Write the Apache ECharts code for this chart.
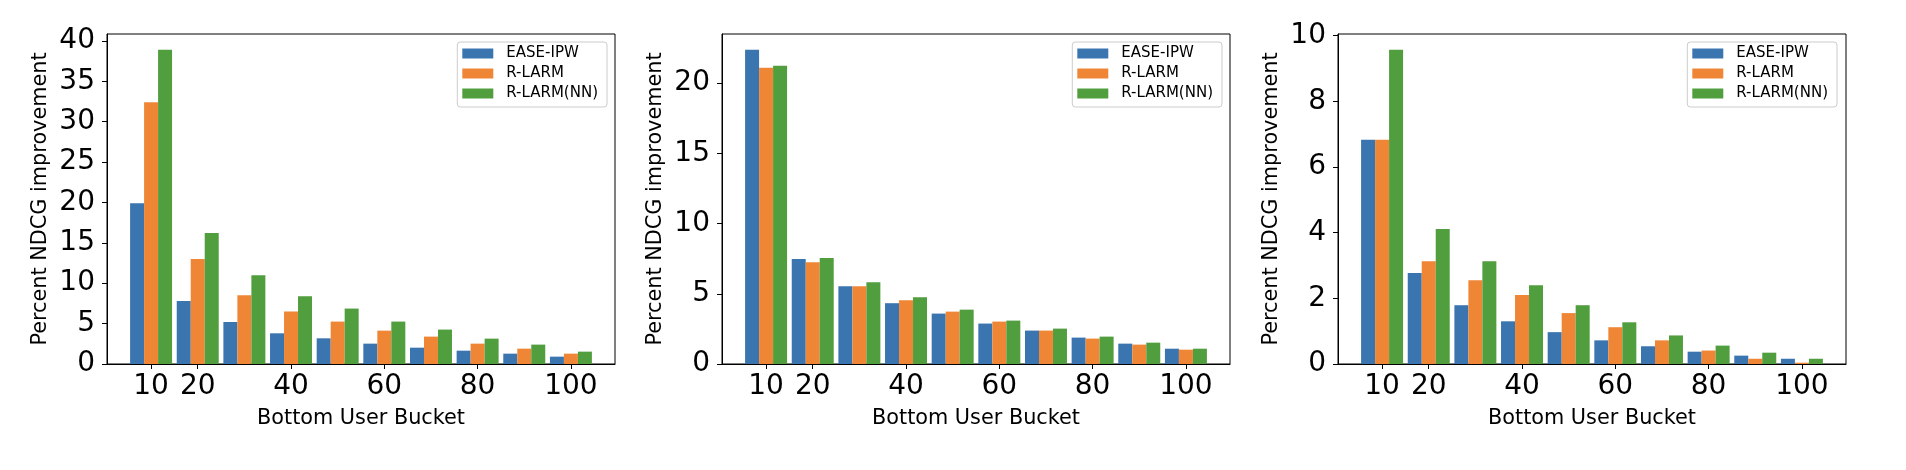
<!DOCTYPE html>
<html>
<head>
<meta charset="utf-8">
<script src="https://cdn.jsdelivr.net/npm/echarts@6/dist/echarts.min.js"></script>
<style>
  html, body { margin: 0; padding: 0; background: #fff; }
  #chart { width: 1906px; height: 470px; }
</style>
</head>
<body>
<div id="chart"></div>
<script>
// ---- data ----
const buckets = [10, 20, 30, 40, 50, 60, 70, 80, 90, 100];
const seriesNames = ['EASE-IPW', 'R-LARM', 'R-LARM(NN)'];
const xTickLabels = [10, 20, 40, 60, 80, 100];

const p1EaseIpw  = [19.9, 7.8, 5.2, 3.8, 3.18, 2.52, 2.02, 1.65, 1.28, 0.91];
const p1Rlarm    = [32.4, 13.0, 8.5, 6.5, 5.25, 4.13, 3.39, 2.52, 1.9, 1.28];
const p1RlarmNN  = [38.9, 16.2, 11.0, 8.4, 6.86, 5.25, 4.26, 3.14, 2.4, 1.53];

const p2EaseIpw  = [22.38, 7.47, 5.54, 4.33, 3.59, 2.88, 2.38, 1.88, 1.45, 1.09];
const p2Rlarm    = [21.1, 7.25, 5.54, 4.54, 3.73, 3.02, 2.38, 1.81, 1.38, 1.02];
const p2RlarmNN  = [21.24, 7.54, 5.83, 4.76, 3.87, 3.09, 2.52, 1.95, 1.52, 1.09];

const p3EaseIpw  = [6.83, 2.77, 1.79, 1.3, 0.97, 0.72, 0.54, 0.375, 0.255, 0.16];
const p3Rlarm    = [6.83, 3.13, 2.55, 2.1, 1.55, 1.12, 0.72, 0.41, 0.16, 0.04];
const p3RlarmNN  = [9.57, 4.11, 3.13, 2.4, 1.79, 1.27, 0.87, 0.56, 0.345, 0.16];

const p1YTicks = [0, 5, 10, 15, 20, 25, 30, 35, 40];
const p2YTicks = [0, 5, 10, 15, 20];
const p3YTicks = [0, 2, 4, 6, 8, 10];

// ---- styling / layout ----
const colors = ['#3a75b0', '#ef8636', '#519e3e'];
const FONT = 'DejaVu Sans';
const BAR_W = 3;            // bar width in data units
const offsets = [-3, 0, 3]; // group offsets in data units

const panels = [
  { series: [p1EaseIpw, p1Rlarm, p1RlarmNN], yTicks: p1YTicks, interval: 5, left: 107, legendRight: 1299 },
  { series: [p2EaseIpw, p2Rlarm, p2RlarmNN], yTicks: p2YTicks, interval: 5, left: 722, legendRight: 684 },
  { series: [p3EaseIpw, p3Rlarm, p3RlarmNN], yTicks: p3YTicks, interval: 2, left: 1338, legendRight: 69 }
];

const grid = [], xAxis = [], yAxis = [], series = [], legend = [];

panels.forEach((p, i) => {
  grid.push({
    left: p.left, top: 34, width: 508, height: 330,
    show: true, borderColor: '#000', borderWidth: 1, backgroundColor: 'transparent'
  });
  xAxis.push({
    type: 'value', gridIndex: i, min: 0.55, max: 109.45,
    name: 'Bottom User Bucket', nameLocation: 'middle', nameGap: 44,
    nameTextStyle: { fontFamily: FONT, fontSize: 20.8, color: '#000' },
    axisLine: { show: true, lineStyle: { color: '#000', width: 1 } },
    axisTick: { show: true, length: 5, lineStyle: { color: '#000' }, customValues: xTickLabels },
    axisLabel: { fontFamily: FONT, fontSize: 28, color: '#000', margin: 9, customValues: xTickLabels },
    splitLine: { show: false }
  });
  let maxV = 0;
  p.series.forEach(s => s.forEach(v => { if (v > maxV) maxV = v; }));
  yAxis.push({
    type: 'value', gridIndex: i, min: 0, max: maxV * 1.05, interval: p.interval,
    name: 'Percent NDCG improvement', nameLocation: 'middle', nameGap: 56,
    nameTextStyle: { fontFamily: FONT, fontSize: 20.8, color: '#000' },
    axisLine: { show: true, lineStyle: { color: '#000', width: 1 } },
    axisTick: { show: true, length: 5, lineStyle: { color: '#000' }, customValues: p.yTicks },
    axisLabel: { fontFamily: FONT, fontSize: 28, color: '#000', margin: 12, customValues: p.yTicks },
    splitLine: { show: false }
  });
  p.series.forEach((vals, k) => {
    const off = offsets[k];
    const col = colors[k];
    series.push({
      type: 'custom',
      id: 'p' + i + 's' + k,
      name: seriesNames[k],
      xAxisIndex: i, yAxisIndex: i,
      itemStyle: { color: col },
      encode: { x: 0, y: 1 },
      data: buckets.map((b, j) => [b, vals[j]]),
      renderItem: function (params, api) {
        const x = api.value(0), y = api.value(1);
        const p0 = api.coord([x + off - BAR_W / 2, y]);
        const p1 = api.coord([x + off + BAR_W / 2, 0]);
        return {
          type: 'rect',
          shape: { x: p0[0], y: p0[1], width: p1[0] - p0[0], height: p1[1] - p0[1] },
          style: { fill: col }
        };
      }
    });
  });
  legend.push({
    orient: 'vertical', right: p.legendRight, top: 42,
    data: seriesNames.map(n => ({ name: n, icon: 'rect' })),
    itemWidth: 31, itemHeight: 10, itemGap: 5,
    padding: [4, 9, 6, 5],
    backgroundColor: '#fff', borderColor: '#cccccc', borderWidth: 1, borderRadius: 3,
    textStyle: { fontFamily: FONT, fontSize: 15, color: '#000', padding: [0, 0, 0, 8] },
    selectedMode: false
  });
});

const chart = echarts.init(document.getElementById('chart'), null, { renderer: 'canvas' });
chart.setOption({
  animation: false,
  backgroundColor: '#fff',
  color: colors,
  grid, xAxis, yAxis, series, legend
});
</script>
</body>
</html>
